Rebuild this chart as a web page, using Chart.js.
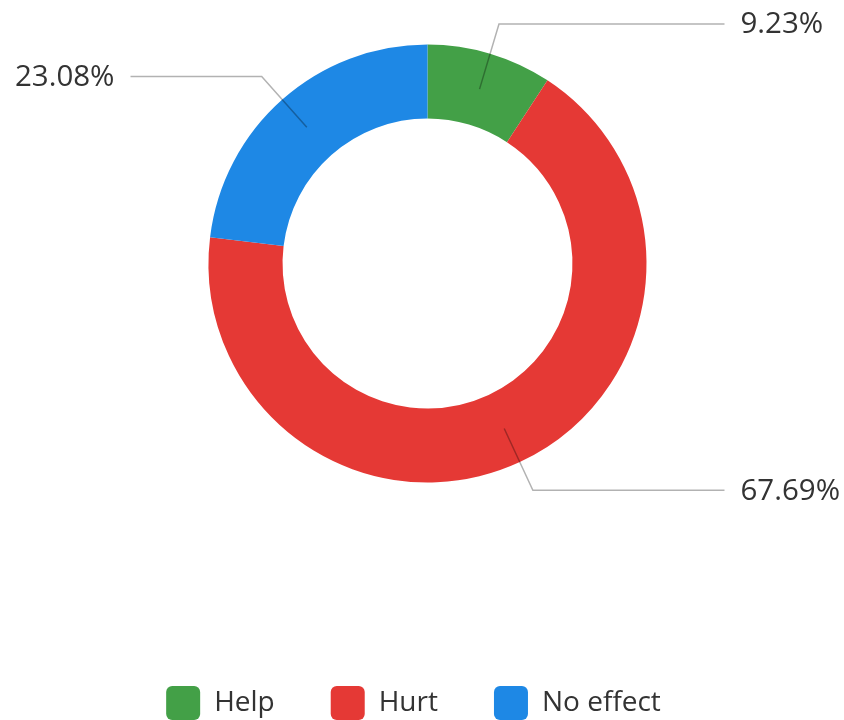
<!DOCTYPE html>
<html><head><meta charset="utf-8">
<script src="https://cdn.jsdelivr.net/npm/chart.js@4/dist/chart.umd.min.js"></script>
<style>html,body{margin:0;padding:0;background:#fff;}</style>
</head><body>
<canvas id="c" width="844" height="720"></canvas>
<script>
const categories = ['Help', 'Hurt', 'No effect'];
const values = [9.23, 67.69, 23.08];
const colors = ['#43A047', '#E53935', '#1E88E5'];
const FONT = "'Open Sans', 'Noto Sans', sans-serif";

const leaderLabels = {
  id: 'leaderLabels',
  afterDatasetsDraw(chart) {
    const ctx = chart.ctx;
    const meta = chart.getDatasetMeta(0);
    const ds = chart.data.datasets[0];
    meta.data.forEach((arc, i) => {
      const p = arc.getProps(['x','y','startAngle','endAngle','innerRadius','outerRadius'], true);
      const mid = (p.startAngle + p.endAngle) / 2;
      const rIn = (p.innerRadius + p.outerRadius) / 2;
      const rOut = p.outerRadius + 31;
      const cos = Math.cos(mid), sin = Math.sin(mid);
      const x1 = p.x + cos * rIn, y1 = p.y + sin * rIn;
      const x2 = p.x + cos * rOut, y2 = p.y + sin * rOut;
      const right = cos >= 0;
      const x3 = right ? p.x + 297 : p.x - 297;
      ctx.save();
      ctx.strokeStyle = 'rgba(0,0,0,0.3)';
      ctx.lineWidth = 1.5;
      ctx.beginPath();
      ctx.moveTo(x1, y1); ctx.lineTo(x2, y2); ctx.lineTo(x3, y2);
      ctx.stroke();
      ctx.fillStyle = '#333';
      ctx.font = '29.5px ' + FONT;
      ctx.textBaseline = 'middle';
      ctx.textAlign = right ? 'left' : 'right';
      ctx.fillText(ds.data[i].toFixed(2) + '%', right ? x3 + 16 : x3 - 16, y2 + 1);
      ctx.restore();
    });
  }
};

const legendShift = {
  id: 'legendShift',
  afterLayout(chart) {
    const l = chart.legend;
    if (l) { l.left -= 14; l.right -= 14; }
  }
};

new Chart(document.getElementById('c'), {
  type: 'doughnut',
  data: {
    labels: categories,
    datasets: [{ data: values, backgroundColor: colors, borderWidth: 0 }]
  },
  options: {
    responsive: false,
    animation: false,
    radius: 219,
    cutout: '66.2%',
    layout: { padding: { left: 11, right: 0, top: 0, bottom: -10 } },
    plugins: {
      tooltip: { enabled: false },
      legend: {
        position: 'bottom',
        labels: {
          boxWidth: 34, boxHeight: 34, useBorderRadius: true, borderRadius: 6,
          padding: 56, color: '#333', font: { family: FONT, size: 28 }
        },
        title: { display: true, text: ' ', font: { size: 10, lineHeight: 1 }, padding: { top: 93, bottom: 0 } }
      }
    }
  },
  plugins: [leaderLabels, legendShift]
});
</script>
</body></html>
